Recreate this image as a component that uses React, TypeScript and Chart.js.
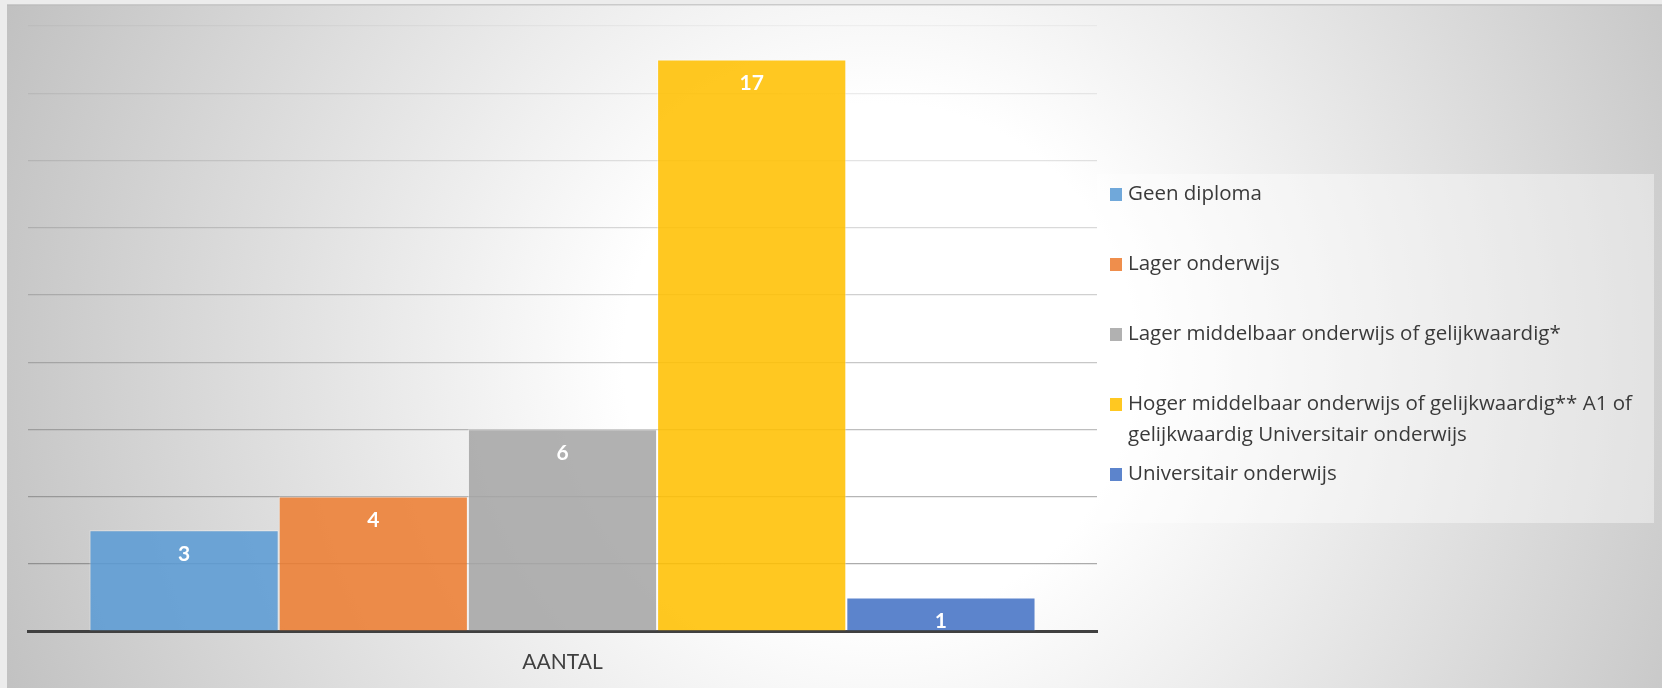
import React, { useEffect, useRef } from "react";
import { Chart, registerables } from "chart.js";

Chart.register(...registerables);

// ---- data ----
const categories = ["AANTAL"];
const seriesNames = [
  "Geen diploma",
  "Lager onderwijs",
  "Lager middelbaar onderwijs of gelijkwaardig*",
  "Hoger middelbaar onderwijs of gelijkwaardig** A1 of gelijkwaardig Universitair onderwijs",
  "Universitair onderwijs",
];
const seriesValues = [3, 4, 6, 17, 1];
const seriesColors = [
  "rgba(91,155,213,0.87)",
  "rgba(237,125,49,0.87)",
  "rgba(165,165,165,0.87)",
  "rgba(255,192,0,0.87)",
  "rgba(68,114,196,0.87)",
];
const yMin = 0;
const yMax = 18;
const yStep = 2;

const FONT = "Lato, 'Open Sans', sans-serif";
const LEGEND_FONT = "'Open Sans', Lato, sans-serif";

const backgroundPlugin = {
  id: "bgGradient",
  beforeDraw(chart: any) {
    const ctx = chart.ctx;
    const w = chart.width;
    const h = chart.height;
    ctx.save();
    ctx.fillStyle = "#ececec";
    ctx.fillRect(0, 0, w, h);
    const g = ctx.createRadialGradient(880, 360, 0, 880, 360, 950);
    g.addColorStop(0, "#ffffff");
    g.addColorStop(0.27, "#ffffff");
    g.addColorStop(1, "#c0c0c0");
    ctx.fillStyle = g;
    ctx.fillRect(7, 5, w - 7, h - 5);
    ctx.fillStyle = "rgba(180,180,180,0.6)";
    ctx.fillRect(7, 4, w - 7, 1.5);
    ctx.restore();
  },
};

function wrapText(ctx: CanvasRenderingContext2D, text: string, maxWidth: number) {
  const words = text.split(" ");
  const lines: string[] = [];
  let cur = "";
  for (const wd of words) {
    const test = cur ? cur + " " + wd : wd;
    if (ctx.measureText(test).width > maxWidth && cur) {
      lines.push(cur);
      cur = wd;
    } else {
      cur = test;
    }
  }
  if (cur) lines.push(cur);
  return lines;
}

const legendPlugin = {
  id: "boxLegend",
  afterDraw(chart: any) {
    const ctx: CanvasRenderingContext2D = chart.ctx;
    const bx1 = 1097, by1 = 174, bx2 = 1654, by2 = 523;
    ctx.save();
    ctx.fillStyle = "rgba(255,255,255,0.4)";
    ctx.fillRect(bx1, by1, bx2 - bx1, by2 - by1);
    ctx.font = `20.5px ${LEGEND_FONT}`;
    ctx.textBaseline = "middle";
    ctx.textAlign = "left";
    const textX = 1128;
    const maxW = bx2 - textX - 2;
    chart.data.datasets.forEach((ds: any, i: number) => {
      const cy = 194 + i * 70;
      ctx.fillStyle = ds.backgroundColor;
      ctx.fillRect(1110, cy - 6, 12, 13);
      ctx.fillStyle = "#3a3a3a";
      const lines = wrapText(ctx, ds.label, maxW);
      lines.forEach((ln, j) => ctx.fillText(ln, textX, cy + j * 31));
    });
    ctx.restore();
  },
};

const dataLabelPlugin = {
  id: "barValueLabels",
  afterDatasetsDraw(chart: any) {
    const ctx: CanvasRenderingContext2D = chart.ctx;
    ctx.save();
    ctx.font = `bold 21px ${FONT}`;
    ctx.fillStyle = "#ffffff";
    ctx.textAlign = "center";
    ctx.textBaseline = "middle";
    chart.data.datasets.forEach((ds: any, i: number) => {
      const meta = chart.getDatasetMeta(i);
      meta.data.forEach((bar: any, j: number) => {
        ctx.fillText(String(ds.data[j]), bar.x, bar.y + 24);
      });
    });
    ctx.restore();
  },
};

export default function App() {
  const canvasRef = useRef<HTMLCanvasElement | null>(null);

  useEffect(() => {
    if (!canvasRef.current) return;
    const chart = new Chart(canvasRef.current, {
      type: "bar",
      data: {
        labels: categories,
        datasets: seriesNames.map((name, i) => ({
          label: name,
          data: [seriesValues[i]],
          backgroundColor: seriesColors[i],
          borderColor: "rgba(255,255,255,0.45)",
          borderWidth: 1,
          categoryPercentage: 0.885,
          barPercentage: 1,
        })),
      },
      options: {
        responsive: false,
        maintainAspectRatio: false,
        animation: false,
        layout: { padding: { left: 28, right: 565, top: 26, bottom: 15 } },
        plugins: {
          legend: { display: false },
          tooltip: { enabled: false },
        },
        scales: {
          x: {
            z: 1,
            afterFit: (scale: any) => {
              scale.height = 42;
            },
            grid: { display: false, drawTicks: false },
            border: { display: true, color: "#404040", width: 3 },
            ticks: {
              padding: 19,
              color: "#404040",
              font: { family: FONT, size: 21 },
            },
          },
          y: {
            min: yMin,
            max: yMax,
            ticks: { display: false, stepSize: yStep },
            border: { display: false },
            grid: {
              drawTicks: false,
              lineWidth: 1.2,
              color: (c: any) => {
                const v = c.tick ? c.tick.value : 0;
                const a = 0.5 * (1 - v / yMax) + 0.06;
                return `rgba(90,90,90,${a.toFixed(3)})`;
              },
            },
          },
        },
      },
      plugins: [backgroundPlugin, dataLabelPlugin, legendPlugin],
    });
    return () => chart.destroy();
  }, []);

  return (
    <div style={{ position: "fixed", left: 0, top: 0, width: 1662, height: 688 }}>
      <canvas ref={canvasRef} width={1662} height={688} style={{ display: "block" }} />
    </div>
  );
}
